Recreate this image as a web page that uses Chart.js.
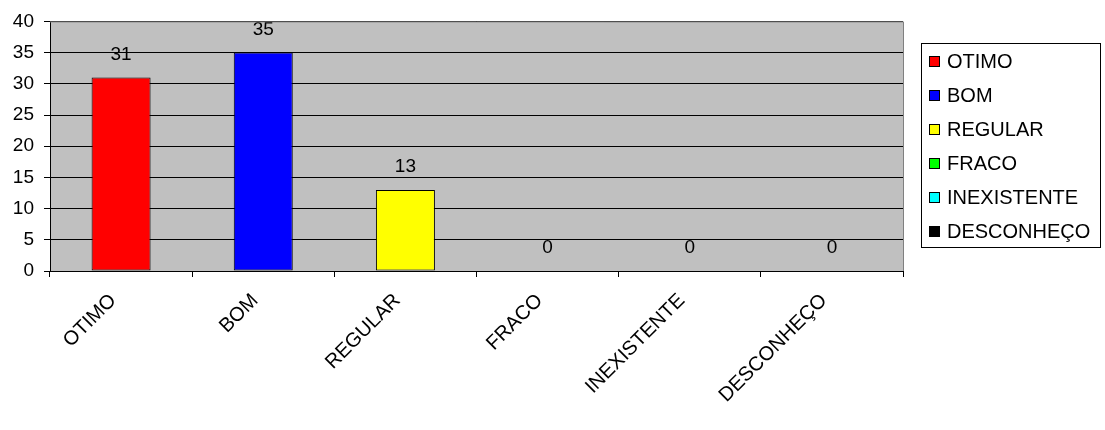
<!DOCTYPE html>
<html>
<head>
<meta charset="utf-8">
<script src="https://cdn.jsdelivr.net/npm/chart.js@4/dist/chart.umd.min.js"></script>
<style>
  html, body { margin: 0; padding: 0; background: #fff; }
  #wrap { width: 1105px; height: 430px; }
</style>
</head>
<body>
<div id="wrap"><canvas id="grafico"></canvas></div>
<script>
const categorias = ["OTIMO", "BOM", "REGULAR", "FRACO", "INEXISTENTE", "DESCONHEÇO"];
const valores = [31, 35, 13, 0, 0, 0];
const cores = ["#FF0000", "#0000FF", "#FFFF00", "#00FF00", "#00FFFF", "#000000"];
const ticksY = [0, 5, 10, 15, 20, 25, 30, 35, 40];

const fonte = "Liberation Sans, Arial, sans-serif";

// fundo cinza da area do grafico
const fundoPlot = {
  id: "fundoPlot",
  beforeDraw(chart) {
    const { ctx, chartArea: a } = chart;
    ctx.save();
    ctx.fillStyle = "#C0C0C0";
    ctx.fillRect(a.left, a.top, a.right - a.left, a.bottom - a.top);
    ctx.restore();
  },
  afterDraw(chart) {
    const { ctx, chartArea: a } = chart;
    ctx.save();
    ctx.strokeStyle = "#808080";
    ctx.lineWidth = 1;
    ctx.beginPath();
    ctx.moveTo(a.left, a.top + 0.5);
    ctx.lineTo(a.right + 0.5, a.top + 0.5);
    ctx.lineTo(a.right + 0.5, a.bottom);
    ctx.stroke();
    ctx.restore();
  }
};

// valores acima das barras
const rotulos = {
  id: "rotulos",
  afterDatasetsDraw(chart) {
    const { ctx } = chart;
    const meta = chart.getDatasetMeta(0);
    ctx.save();
    ctx.fillStyle = "#000";
    ctx.font = "19px " + fonte;
    ctx.textAlign = "center";
    ctx.textBaseline = "alphabetic";
    meta.data.forEach((bar, i) => {
      ctx.fillText(String(valores[i]), bar.x, bar.y - 18);
    });
    ctx.restore();
  }
};

// legenda com moldura
const legenda = {
  id: "legenda",
  afterDraw(chart) {
    const { ctx } = chart;
    const x0 = 921, y0 = 43, w = 179, h = 204;
    ctx.save();
    ctx.fillStyle = "#fff";
    ctx.fillRect(x0, y0, w, h);
    ctx.strokeStyle = "#000";
    ctx.lineWidth = 1;
    ctx.strokeRect(x0 + 0.5, y0 + 0.5, w, h);
    ctx.font = "20px " + fonte;
    ctx.textBaseline = "middle";
    categorias.forEach((c, i) => {
      const cy = 61 + i * 34;
      ctx.fillStyle = cores[i];
      ctx.fillRect(929.5, cy - 4.5, 10, 10);
      ctx.strokeStyle = "#000";
      ctx.strokeRect(929.5, cy - 4.5, 10, 10);
      ctx.fillStyle = "#000";
      ctx.fillText(c, 947, cy + 1);
    });
    ctx.restore();
  }
};

new Chart(document.getElementById("grafico"), {
  type: "bar",
  data: {
    labels: categorias,
    datasets: [{
      data: valores,
      backgroundColor: cores,
      borderColor: "#000",
      borderWidth: 1,
      borderSkipped: false,
      categoryPercentage: 1,
      barPercentage: 0.415
    }]
  },
  options: {
    responsive: true,
    maintainAspectRatio: false,
    animation: false,
    devicePixelRatio: 1,
    layout: { padding: { left: 0, top: 20, right: 202, bottom: 0 } },
    plugins: { legend: { display: false }, tooltip: { enabled: false } },
    scales: {
      x: {
        offset: true,
        afterFit(s) { s.height = 159; },
        grid: {
          offset: true,
          drawOnChartArea: false,
          drawTicks: true,
          tickLength: 6,
          color: "#000"
        },
        border: { color: "#000", width: 1 },
        ticks: {
          color: "#000",
          font: { family: fonte, size: 20 },
          maxRotation: 45,
          minRotation: 45,
          padding: 12,
          labelOffset: -8
        }
      },
      y: {
        min: 0,
        max: 40,
        afterFit(s) { s.width = 50; },
        afterBuildTicks(s) { s.ticks = ticksY.map(v => ({ value: v })); },
        grid: {
          color: "#000",
          tickLength: 6,
          drawTicks: true
        },
        border: { color: "#000", width: 1 },
        ticks: {
          color: "#000",
          font: { family: fonte, size: 19 },
          padding: 10
        }
      }
    }
  },
  plugins: [fundoPlot, rotulos, legenda]
});
</script>
</body>
</html>
